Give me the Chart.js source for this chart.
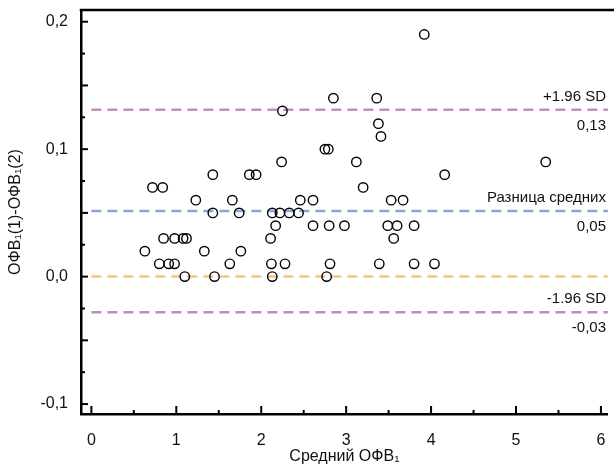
<!DOCTYPE html>
<html>
<head>
<meta charset="utf-8">
<script src="https://cdn.jsdelivr.net/npm/chart.js@4/dist/chart.umd.min.js"></script>
<style>
    html, body { margin: 0; padding: 0; background: #fff; }
</style>
</head>
<body>
<canvas id="myChart" width="614" height="475"></canvas>
<script>
// среднее двух измерений и их разница
const meanValues = [
    0.63, 0.72, 0.84, 0.80, 0.85, 0.91, 0.98, 0.98, 1.08, 1.12,
    1.10, 1.23, 1.33, 1.43, 1.43, 1.45, 1.63, 1.66, 1.74, 1.76,
    1.86, 1.94, 2.11, 2.12, 2.13, 2.13, 2.17, 2.22, 2.24, 2.25,
    2.28, 2.33, 2.44, 2.46, 2.61, 2.61, 2.75, 2.79, 2.77, 2.80,
    2.81, 2.85, 2.98, 3.12, 3.20, 3.36, 3.38, 3.41, 3.39, 3.49,
    3.53, 3.56, 3.60, 3.67, 3.80, 3.80, 3.92, 4.04, 4.16, 5.35
];
const diffValues = [
    0.02, 0.07, 0.07, 0.01, 0.03, 0.01, 0.01, 0.03, 0.03, 0.03,
    0.00, 0.06, 0.02, 0.08, 0.05, 0.00, 0.01, 0.06, 0.05, 0.02,
    0.08, 0.08, 0.03, 0.01, 0.00, 0.05, 0.04, 0.05, 0.09, 0.13,
    0.01, 0.05, 0.05, 0.06, 0.06, 0.04, 0.10, 0.10, 0.00, 0.04,
    0.01, 0.14, 0.04, 0.09, 0.07, 0.14, 0.12, 0.11, 0.01, 0.04,
    0.06, 0.03, 0.04, 0.06, 0.04, 0.01, 0.19, 0.01, 0.08, 0.09
];

// линии: +1.96 SD, разница средних, ноль, -1.96 SD
const refValues = [0.131, 0.0515, 0, -0.028];
const refColors = ["#c18bc5", "#8aa5d9", "#fac28b", "#c18bc5"];
const refNames = ["+1.96 SD", "Разница средних", "", "-1.96 SD"];
const refLabels = ["0,13", "0,05", "", "-0,03"];

const xTickLabels = ["0", "1", "2", "3", "4", "5", "6"];
const yTickValues = [-0.1, 0, 0.1, 0.2];
const yTickLabels = ["-0,1", "0,0", "0,1", "0,2"];

const X_MIN = -0.122, X_MAX = 6.082;
const Y_MIN = -0.1078, Y_MAX = 0.2092;
const FONT = '"Liberation Sans", Arial, sans-serif';

const points = meanValues.map((m, i) => ({ x: m, y: diffValues[i] }));

const refDatasets = refValues.map((v, i) => ({
    type: "line",
    data: [{ x: 0, y: v }, { x: X_MAX, y: v }],
    borderColor: refColors[i],
    borderWidth: 2.5,
    borderDash: [10, 6],
    pointRadius: 0,
    fill: false,
}));

const axesPlugin = {
    id: "axesPlugin",
    afterDraw(chart) {
        const { ctx, chartArea, scales } = chart;
        ctx.save();
        ctx.strokeStyle = "#000";
        // верхняя рамка
        ctx.lineWidth = 2.5;
        ctx.beginPath();
        ctx.moveTo(chartArea.left - 1.25, chartArea.top);
        ctx.lineTo(chart.width, chartArea.top);
        ctx.stroke();
        // засечки внутрь
        ctx.lineWidth = 2;
        scales.x.ticks.forEach(t => {
            const px = scales.x.getPixelForValue(t.value);
            const len = Math.abs(t.value - Math.round(t.value)) < 1e-6 ? 8 : 4;
            ctx.beginPath();
            ctx.moveTo(px, chartArea.bottom);
            ctx.lineTo(px, chartArea.bottom - len);
            ctx.stroke();
        });
        scales.y.ticks.forEach(t => {
            const py = scales.y.getPixelForValue(t.value);
            const q = t.value / 0.05;
            const len = Math.abs(q - Math.round(q)) < 1e-6 ? 7 : 4;
            ctx.beginPath();
            ctx.moveTo(chartArea.left, py);
            ctx.lineTo(chartArea.left + len, py);
            ctx.stroke();
        });
        // подписи линий
        ctx.fillStyle = "#111";
        ctx.font = "15px " + FONT;
        ctx.textAlign = "right";
        ctx.textBaseline = "middle";
        refValues.forEach((v, i) => {
            if (!refNames[i]) return;
            const py = scales.y.getPixelForValue(v);
            ctx.fillText(refNames[i], 606, py - 13);
            ctx.fillText(refLabels[i], 606, py + 16);
        });
        ctx.restore();
    }
};

const ctx = document.getElementById("myChart").getContext("2d");
const myChart = new Chart(ctx, {
    type: "scatter",
    data: {
        datasets: [
            {
                label: "ОФВ",
                data: points,
                pointRadius: 4.7,
                pointHoverRadius: 4.7,
                pointBorderWidth: 1.4,
                borderColor: "#000",
                backgroundColor: "rgba(255,255,255,0)",
            },
            ...refDatasets,
        ],
    },
    options: {
        responsive: false,
        animation: false,
        events: [],
        layout: {
            padding: { top: 10, right: 0, bottom: 0, left: 0 },
        },
        plugins: {
            legend: { display: false },
            tooltip: { enabled: false },
        },
        scales: {
            x: {
                type: "linear",
                min: X_MIN,
                max: X_MAX,
                afterFit: s => { s.height = 61; s.paddingLeft = 0; s.paddingRight = 0; },
                grid: { display: false, drawTicks: false },
                border: { display: true, color: "#000", width: 2.5 },
                ticks: {
                    stepSize: 0.5,
                    includeBounds: false,
                    autoSkip: false,
                    maxRotation: 0,
                    padding: 17,
                    color: "#111",
                    font: { family: FONT, size: 16 },
                    callback: v => {
                        const i = Math.round(v);
                        return Math.abs(v - i) < 1e-6 && xTickLabels[i] !== undefined ? xTickLabels[i] : "";
                    },
                },
                title: {
                    display: true,
                    text: "Средний ОФВ₁",
                    color: "#111",
                    font: { family: FONT, size: 16 },
                    padding: { top: 0, bottom: 9 },
                },
            },
            y: {
                type: "linear",
                min: Y_MIN,
                max: Y_MAX,
                afterFit: s => { s.width = 81; s.paddingTop = 0; s.paddingBottom = 0; },
                grid: { display: false, drawTicks: false },
                border: { display: true, color: "#000", width: 2.5 },
                ticks: {
                    stepSize: 0.025,
                    includeBounds: false,
                    autoSkip: false,
                    padding: 13,
                    color: "#111",
                    font: { family: FONT, size: 16 },
                    callback: v => {
                        const i = yTickValues.findIndex(t => Math.abs(t - v) < 1e-6);
                        return i >= 0 ? yTickLabels[i] : "";
                    },
                },
                title: {
                    display: true,
                    text: "ОФВ₁(1)-ОФВ₁(2)",
                    color: "#111",
                    font: { family: FONT, size: 16 },
                    padding: { top: 6, bottom: 0 },
                },
            },
        },
    },
    plugins: [axesPlugin],
});
</script>
</body>
</html>
